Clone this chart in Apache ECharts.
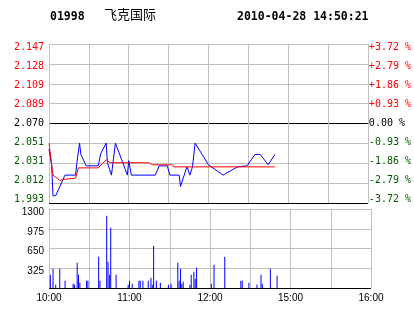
<!DOCTYPE html>
<html><head><meta charset="utf-8">
<script src="https://cdn.jsdelivr.net/npm/echarts@6/dist/echarts.min.js"></script>
<style>html,body{margin:0;padding:0;background:#fff}#c{width:414px;height:314px}</style>
</head><body><div id="c"></div>
<script>
const stockCode = '01998';
const stockName = '飞克国际';
const timestamp = '2010-04-28 14:50:21';
const prevClose = 2.070;
const priceTickLabels = ['1.993','2.012','2.031','2.051','2.070','2.089','2.109','2.128','2.147'];
const pctTickLabels = ['-3.72 %','-2.79 %','-1.86 %','-0.93 %','0.00 %','+0.93 %','+1.86 %','+2.79 %','+3.72 %'];
const volumeTickLabels = ['', '325', '650', '975', '1300'];
const timeTickLabels = ['10:00','','11:00','','12:00','','15:00','','16:00'];

const priceTimes = ['10:00','10:01','10:02','10:03','10:05','10:12','10:20','10:21','10:23','10:24','10:28','10:37','10:39','10:43','10:44','10:47','10:50','10:59','11:00','11:02','11:20','11:23','11:29','11:31','11:38','11:39','11:41','11:43','11:44','11:46','11:48','11:50','12:00','12:11','12:22','12:29','14:35','14:39','14:45','14:50'];
const priceValues = [2.045,2.044,2.030,2.000,2.000,2.020,2.020,2.032,2.051,2.040,2.029,2.029,2.041,2.051,2.032,2.020,2.051,2.020,2.034,2.020,2.020,2.029,2.029,2.020,2.020,2.009,2.017,2.025,2.028,2.020,2.028,2.051,2.030,2.020,2.028,2.029,2.040,2.040,2.030,2.040];

const avgTimes = ['10:00','10:03','10:08','10:12','10:20','10:22','10:37','10:43','10:46','11:15','11:18','11:33','11:34','14:50'];
const avgValues = [2.051,2.020,2.015,2.016,2.017,2.027,2.027,2.035,2.032,2.032,2.030,2.030,2.028,2.028];

const volumeTimes = ['10:01','10:03','10:05','10:08','10:12','10:18','10:19','10:21','10:22','10:23','10:28','10:29','10:37','10:38','10:43','10:44','10:45','10:46','10:50','10:59','11:00','11:02','11:07','11:08','11:10','11:14','11:16','11:17','11:18','11:20','11:23','11:29','11:31','11:36','11:37','11:38','11:39','11:40','11:45','11:46','11:48','11:49','11:50','12:01','12:03','12:11','12:23','12:24','12:29','14:35','14:38','14:39','14:45','14:50'];
const volumeValues = [219,318,55,318,121,71,55,417,219,88,121,121,516,121,1190,433,219,993,219,55,121,71,121,121,121,121,170,55,697,121,88,55,71,417,121,318,71,104,55,219,269,154,335,71,384,516,121,121,88,55,219,71,318,203];

function toIdx(t) {
  const [h, m] = t.split(':').map(Number);
  const mins = h * 60 + m;
  if (mins <= 12 * 60 + 30) return mins - 600;
  return mins - (14 * 60 + 30) + 150;
}
function toPct(p) { return (p - prevClose) / prevClose * 100; }

const RED = '#ff0000', GREEN = '#005a00', BLACK = '#000000', GRID = '#c0c0c0';
const labelColor = i => i > 4 ? RED : (i < 4 ? GREEN : BLACK);
const idxOf = v => Math.round((v + 3.72) / 0.93);

function richFor(align) {
  const r = {};
  for (let i = 0; i < 9; i++) {
    const d = -3.6 + 0.9 * i;
    r['s' + i] = {
      color: labelColor(i), fontFamily: 'DejaVu Sans Mono', fontSize: 10,
      padding: d >= 0 ? [2 * d, 0, 0, 0] : [0, 0, -2 * d, 0], align: align
    };
  }
  return r;
}

const chart = echarts.init(document.getElementById('c'), null, {renderer: 'canvas'});
const titleStyle = {fontFamily: 'DejaVu Sans Mono', fontWeight: 'bold', fontSize: 11.5, color: '#000'};
chart.setOption({
  animation: false,
  backgroundColor: '#fff',
  title: [
    {text: stockCode, left: 50, top: 11, padding: 0, textStyle: titleStyle},
    {text: stockName, left: 104, top: 8, padding: 0, textStyle: {fontFamily: 'Noto Sans CJK SC', fontWeight: 'normal', fontSize: 13, color: '#000'}},
    {text: timestamp, left: 237, top: 11, padding: 0, textStyle: titleStyle}
  ],
  grid: [
    {left: 49, top: 44, width: 322, height: 159},
    {left: 49, top: 209, width: 322, height: 79}
  ],
  xAxis: [
    {gridIndex: 0, type: 'value', min: 0, max: 240, interval: 30,
     axisLine: {show: false}, axisTick: {show: false}, axisLabel: {show: false},
     splitLine: {show: true, lineStyle: {color: GRID, width: 1}}},
    {gridIndex: 1, type: 'value', min: 0, max: 240, interval: 30,
     axisLine: {show: false}, axisTick: {show: false},
     axisLabel: {show: true, interval: 0, showMinLabel: true, showMaxLabel: true, margin: 5,
       fontFamily: 'Liberation Sans', fontSize: 10, color: '#000',
       formatter: v => timeTickLabels[Math.round(v / 30)] || ''},
     splitLine: {show: true, lineStyle: {color: GRID, width: 1}}}
  ],
  yAxis: [
    {gridIndex: 0, type: 'value', min: -3.72, max: 3.72, interval: 0.93, position: 'left',
     axisLine: {show: false}, axisTick: {show: false},
     axisLabel: {show: true, margin: 5, showMinLabel: true, showMaxLabel: true,
       formatter: v => { const i = idxOf(v); return '{s' + i + '|' + priceTickLabels[i] + '}'; },
       rich: richFor('right')},
     splitLine: {show: true, lineStyle: {color: [BLACK, GRID, GRID, GRID, BLACK, GRID, GRID, GRID, GRID], width: 1}}},
    {gridIndex: 0, type: 'value', min: -3.72, max: 3.72, interval: 0.93, position: 'right',
     axisLine: {show: false}, axisTick: {show: false},
     axisLabel: {show: true, margin: 1, showMinLabel: true, showMaxLabel: true,
       formatter: v => { const i = idxOf(v); return '{s' + i + '|' + pctTickLabels[i] + '}'; },
       rich: richFor('left')},
     splitLine: {show: false}},
    {gridIndex: 1, type: 'value', min: 0, max: 1300, interval: 325,
     axisLine: {show: false}, axisTick: {show: false},
     axisLabel: {show: true, margin: 5, showMinLabel: true, showMaxLabel: true,
       formatter: v => '{v|' + (volumeTickLabels[Math.round(v / 325)] || '') + '}',
       rich: {v: {fontFamily: 'Liberation Sans', fontSize: 10, color: '#000', padding: [6, 0, 0, 0], align: 'right'}}},
     splitLine: {show: true, lineStyle: {color: [BLACK, GRID, GRID, GRID, GRID], width: 1}}}
  ],
  series: [
    {type: 'line', xAxisIndex: 0, yAxisIndex: 0, showSymbol: false, symbol: 'none',
     lineStyle: {color: RED, width: 1}, z: 3,
     data: avgTimes.map((t, i) => [toIdx(t), toPct(avgValues[i])])},
    {type: 'line', xAxisIndex: 0, yAxisIndex: 0, showSymbol: false, symbol: 'none',
     lineStyle: {color: '#0000ff', width: 1}, z: 2,
     data: priceTimes.map((t, i) => [toIdx(t), toPct(priceValues[i])])},
    {type: 'bar', xAxisIndex: 1, yAxisIndex: 2, barWidth: 1, itemStyle: {color: '#0000ff'},
     data: volumeTimes.map((t, i) => [toIdx(t), volumeValues[i]])}
  ]
});
</script></body></html>
